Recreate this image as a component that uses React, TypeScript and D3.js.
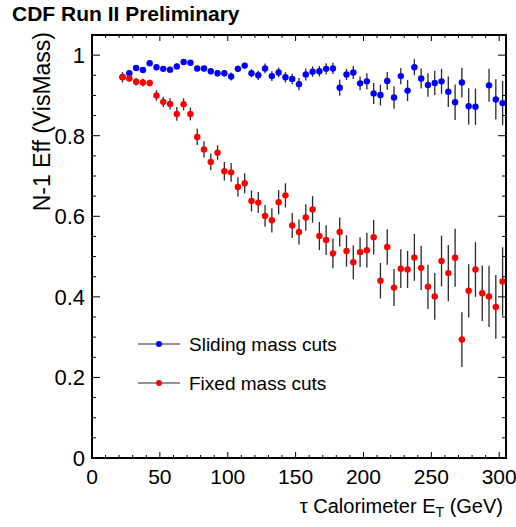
import React from "react";
import * as d3 from "d3";

const W = 516;
const H = 527;

const binCenters: number[] = d3.range(22.5, 303, 5);

const slidingEff: (number | null)[] = [
  0.946, 0.955, 0.968, 0.963, 0.98, 0.97, 0.966, 0.964, 0.972, 0.983,
  0.981, 0.967, 0.967, 0.96, 0.955, 0.955, 0.947, 0.966, 0.974, 0.955,
  0.95, 0.967, 0.948, 0.957, 0.945, 0.941, 0.928, 0.952, 0.959, 0.96,
  0.966, 0.967, 0.919, 0.952, 0.957, 0.93, 0.935, 0.905, 0.901, 0.936,
  0.895, 0.948, 0.912, 0.97, 0.942, 0.926, 0.931, 0.935, 0.909, 0.883,
  0.932, 0.873, 0.872, null, 0.925, 0.89, 0.881,
];
const slidingErr: (number | null)[] = [
  0.006, 0.007, 0.007, 0.007, 0.007, 0.007, 0.007, 0.007, 0.007, 0.007,
  0.007, 0.007, 0.007, 0.008, 0.008, 0.008, 0.01, 0.008, 0.007, 0.01,
  0.012, 0.012, 0.012, 0.012, 0.013, 0.013, 0.015, 0.015, 0.013, 0.013,
  0.014, 0.014, 0.02, 0.014, 0.016, 0.017, 0.02, 0.026, 0.026, 0.022,
  0.028, 0.02, 0.026, 0.02, 0.025, 0.029, 0.03, 0.031, 0.038, 0.044,
  0.037, 0.045, 0.045, null, 0.041, 0.05, 0.055,
];

const fixedEff: number[] = [
  0.945, 0.942, 0.934, 0.932, 0.931, 0.9, 0.884, 0.879, 0.854, 0.878,
  0.854, 0.797, 0.766, 0.735, 0.758, 0.712, 0.709, 0.673, 0.682, 0.638,
  0.634, 0.601, 0.59, 0.635, 0.652, 0.577, 0.561, 0.597, 0.617, 0.551,
  0.541, 0.508, 0.561, 0.514, 0.486, 0.511, 0.516, 0.548, 0.44, 0.524,
  0.423, 0.47, 0.468, 0.498, 0.472, 0.425, 0.401, 0.489, 0.459, 0.497,
  0.294, 0.415, 0.468, 0.409, 0.401, 0.375, 0.438,
];
const fixedErr: number[] = [
  0.013, 0.008, 0.01, 0.01, 0.008, 0.013, 0.013, 0.014, 0.017, 0.015,
  0.016, 0.02, 0.02, 0.021, 0.018, 0.023, 0.023, 0.024, 0.025, 0.026,
  0.026, 0.027, 0.03, 0.03, 0.03, 0.031, 0.031, 0.033, 0.033, 0.035,
  0.037, 0.037, 0.036, 0.039, 0.042, 0.037, 0.043, 0.043, 0.044, 0.044,
  0.046, 0.048, 0.046, 0.058, 0.055, 0.055, 0.058, 0.063, 0.07, 0.072,
  0.068, 0.066, 0.068, 0.069, 0.076, 0.079, 0.085,
];

const xMajorTicks = [0, 50, 100, 150, 200, 250, 300];
const yMajorTicks = [0, 0.2, 0.4, 0.6, 0.8, 1];
const yTickLabels = ["0", "0.2", "0.4", "0.6", "0.8", "1"];
const seriesNames = ["Sliding mass cuts", "Fixed mass cuts"];
const seriesColors = ["#0000ff", "#ff0000"];

const FONT = "'Liberation Sans', Arial, Helvetica, sans-serif";

const L = 92, R = 506, T = 35, B = 458;

export default function App() {
  const x = d3.scaleLinear().domain([0, 305]).range([L, R]);
  const y = d3.scaleLinear().domain([0, 1.05]).range([B, T]);
  const xMinor = d3.range(0, 305, 10);
  const yMinor = d3.range(0, 1.051, 0.05);

  const series = [
    { vals: slidingEff, errs: slidingErr, color: seriesColors[0] },
    { vals: fixedEff, errs: fixedErr, color: seriesColors[1] },
  ];

  return (
    <div style={{ position: "absolute", left: 0, top: 0 }}>
      <svg width={W} height={H} style={{ display: "block", background: "#fff" }} fontFamily={FONT}>
        <rect x={0} y={0} width={W} height={H} fill="#fff" />
        <text x={12} y={21} fontSize={21} fontWeight="bold" fill="#000">CDF Run II Preliminary</text>

        {/* data */}
        {series.map((s, si) => (
          <g key={si}>
            {binCenters.map((c, i) => {
              const v = s.vals[i];
              const e = s.errs[i];
              if (v == null || e == null) return null;
              return (
                <line key={"e" + i} x1={x(c)} x2={x(c)} y1={y(v - e)} y2={y(v + e)} stroke="#2a2a2a" strokeWidth={1.3} />
              );
            })}
            {binCenters.map((c, i) => {
              const v = s.vals[i];
              if (v == null) return null;
              return (
                <g key={"p" + i}>
                  <line x1={x(c - 2.5)} x2={x(c + 2.5)} y1={y(v)} y2={y(v)} stroke={s.color} strokeOpacity={0.25} strokeWidth={1} />
                  <circle cx={x(c)} cy={y(v)} r={3.2} fill={s.color} />
                </g>
              );
            })}
          </g>
        ))}

        {/* ticks */}
        {xMinor.map((t) => {
          const major = t % 50 === 0;
          const len = major ? 6 : 3;
          return (
            <g key={"xt" + t}>
              <line x1={x(t)} x2={x(t)} y1={B} y2={B - len} stroke="#000" strokeWidth={1} />
              <line x1={x(t)} x2={x(t)} y1={T} y2={T + len} stroke="#000" strokeWidth={1} />
            </g>
          );
        })}
        {yMinor.map((t, i) => {
          const major = i % 4 === 0;
          const len = major ? 8 : 4;
          return (
            <g key={"yt" + i}>
              <line x1={L} x2={L + len} y1={y(t)} y2={y(t)} stroke="#000" strokeWidth={1} />
              <line x1={R} x2={R - len} y1={y(t)} y2={y(t)} stroke="#000" strokeWidth={1} />
            </g>
          );
        })}
        <rect x={L} y={T} width={R - L} height={B - T} fill="none" stroke="#000" strokeWidth={2} />

        {xMajorTicks.map((t) => (
          <text key={"xl" + t} x={x(t)} y={484} fontSize={21} textAnchor="middle" fill="#000">{t}</text>
        ))}
        {yMajorTicks.map((t, i) => (
          <text key={"yl" + t} x={85} y={y(t) + 8} fontSize={22} textAnchor="end" fill="#000">{yTickLabels[i]}</text>
        ))}

        <text x={503} y={513} fontSize={20} textAnchor="end" fill="#000">
          τ Calorimeter E<tspan fontSize={14} dy={4}>T</tspan><tspan dy={-4}> (GeV)</tspan>
        </text>
        <text transform="translate(50,32) rotate(-90)" fontSize={23} textAnchor="end" fill="#000">N-1 Eff (VisMass)</text>

        {/* legend */}
        {seriesNames.map((n, i) => {
          const ly = 344 + i * 39;
          return (
            <g key={"lg" + i}>
              <line x1={138} x2={180} y1={ly} y2={ly} stroke="#2a2a2a" strokeWidth={1.2} />
              <circle cx={159} cy={ly} r={3} fill={seriesColors[i]} />
              <text x={189} y={ly + 7} fontSize={19} fill="#000">{n}</text>
            </g>
          );
        })}
      </svg>
    </div>
  );
}
